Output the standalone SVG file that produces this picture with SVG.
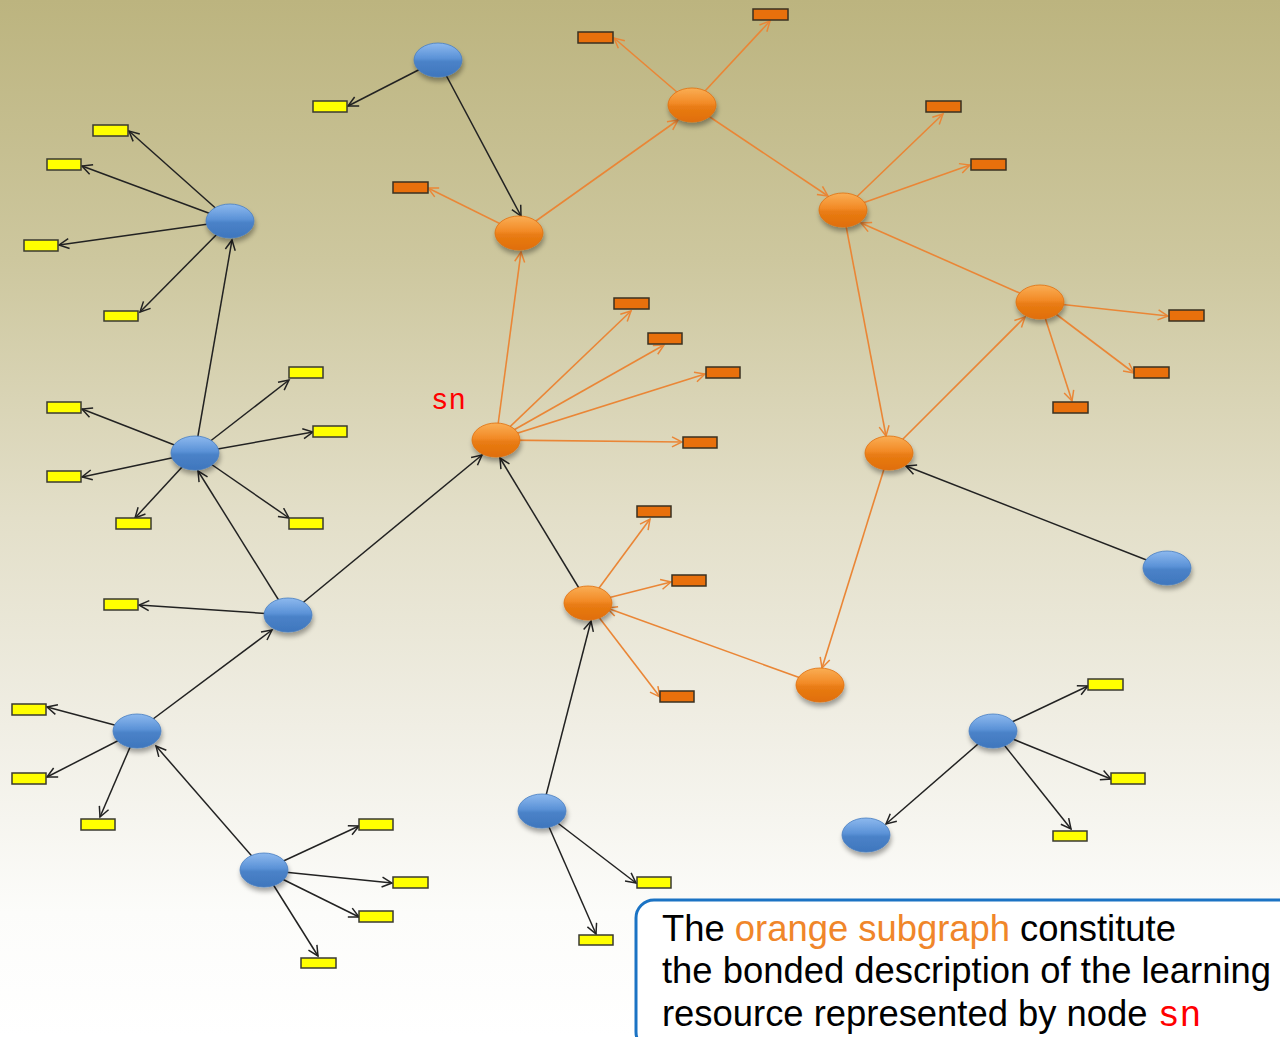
<svg xmlns="http://www.w3.org/2000/svg" width="1280" height="1037" viewBox="0 0 1280 1037">
<defs>
<linearGradient id="bg" x1="0" y1="0" x2="0" y2="1">
<stop offset="0" stop-color="#BCB47F"/>
<stop offset="0.25" stop-color="#CDC79E"/>
<stop offset="0.5" stop-color="#E3DFC9"/>
<stop offset="0.7" stop-color="#F0EEE4"/>
<stop offset="0.88" stop-color="#FCFCFA"/>
<stop offset="1" stop-color="#FFFFFF"/>
</linearGradient>
<linearGradient id="gBlue" x1="0" y1="0" x2="0" y2="1">
<stop offset="0" stop-color="#8DB9EE"/>
<stop offset="0.45" stop-color="#5B92D7"/>
<stop offset="0.55" stop-color="#4A82C8"/>
<stop offset="1" stop-color="#3F76BD"/>
</linearGradient>
<linearGradient id="gOrange" x1="0" y1="0" x2="0" y2="1">
<stop offset="0" stop-color="#FAAE55"/>
<stop offset="0.45" stop-color="#F28A26"/>
<stop offset="0.55" stop-color="#E97C14"/>
<stop offset="1" stop-color="#E06E06"/>
</linearGradient>
<filter id="sh" x="-30%" y="-30%" width="160%" height="180%">
<feGaussianBlur in="SourceAlpha" stdDeviation="2.5"/>
<feOffset dx="1" dy="4" result="b"/>
<feComponentTransfer><feFuncA type="linear" slope="0.35"/></feComponentTransfer>
<feMerge><feMergeNode/><feMergeNode in="SourceGraphic"/></feMerge>
</filter>
<marker id="aK" markerUnits="userSpaceOnUse" markerWidth="14" markerHeight="14" refX="11" refY="6" orient="auto">
<path d="M1,1 L11,6 L1,11" fill="none" stroke="#222" stroke-width="1.5"/>
</marker>
<marker id="aO" markerUnits="userSpaceOnUse" markerWidth="14" markerHeight="14" refX="11" refY="6" orient="auto">
<path d="M1,1 L11,6 L1,11" fill="none" stroke="#EA8636" stroke-width="1.5"/>
</marker>
</defs>
<style>
.bn{fill:url(#gBlue);stroke:#4A7FC0;stroke-width:0.8;filter:url(#sh)}
.on{fill:url(#gOrange);stroke:#E07010;stroke-width:0.8;filter:url(#sh)}
.yr{fill:#FFFF00;stroke:#3A3A30;stroke-width:1.5}
.orr{fill:#E8700C;stroke:#3A3020;stroke-width:1.5}
.k{stroke:#222;stroke-width:1.5;fill:none;marker-end:url(#aK)}
.o{stroke:#EA8636;stroke-width:1.6;fill:none;marker-end:url(#aO)}
.t{font-family:"Liberation Sans",Arial,sans-serif;font-size:36.4px;fill:#000}
.sn{font-family:"Liberation Mono","Courier New",monospace;fill:#FF0000}
</style>
<rect x="0" y="0" width="1280" height="1037" fill="url(#bg)"/>

<g id="connectors">
<line class="k" x1="438" y1="60" x2="348" y2="106"/>
<line class="k" x1="438" y1="60" x2="521" y2="216"/>
<line class="k" x1="230" y1="221" x2="129" y2="131"/>
<line class="k" x1="230" y1="221" x2="82" y2="166"/>
<line class="k" x1="230" y1="221" x2="59" y2="245"/>
<line class="k" x1="230" y1="221" x2="140" y2="312"/>
<line class="k" x1="195" y1="453" x2="232" y2="240"/>
<line class="k" x1="195" y1="453" x2="82" y2="409"/>
<line class="k" x1="195" y1="453" x2="82" y2="477"/>
<line class="k" x1="195" y1="453" x2="135" y2="518"/>
<line class="k" x1="195" y1="453" x2="289" y2="380"/>
<line class="k" x1="195" y1="453" x2="313" y2="432"/>
<line class="k" x1="195" y1="453" x2="289" y2="518"/>
<line class="k" x1="288" y1="615" x2="198" y2="471"/>
<line class="k" x1="288" y1="615" x2="139" y2="605"/>
<line class="k" x1="288" y1="615" x2="482" y2="455"/>
<line class="k" x1="137" y1="731" x2="272" y2="630"/>
<line class="k" x1="137" y1="731" x2="47" y2="707"/>
<line class="k" x1="137" y1="731" x2="47" y2="777"/>
<line class="k" x1="137" y1="731" x2="100" y2="817"/>
<line class="k" x1="264" y1="870" x2="156" y2="746"/>
<line class="k" x1="264" y1="870" x2="359" y2="826"/>
<line class="k" x1="264" y1="870" x2="392" y2="883"/>
<line class="k" x1="264" y1="870" x2="359" y2="917"/>
<line class="k" x1="264" y1="870" x2="318" y2="956"/>
<line class="k" x1="542" y1="811" x2="591" y2="621"/>
<line class="k" x1="542" y1="811" x2="636" y2="883"/>
<line class="k" x1="542" y1="811" x2="596" y2="934"/>
<line class="k" x1="993" y1="731" x2="886" y2="824"/>
<line class="k" x1="993" y1="731" x2="1088" y2="686"/>
<line class="k" x1="993" y1="731" x2="1111" y2="779"/>
<line class="k" x1="993" y1="731" x2="1071" y2="829"/>
<line class="k" x1="1167" y1="568" x2="906" y2="466"/>
<line class="k" x1="588" y1="603" x2="500" y2="458"/>
<line class="o" x1="519" y1="233" x2="428" y2="188"/>
<line class="o" x1="519" y1="233" x2="678" y2="120"/>
<line class="o" x1="496" y1="440" x2="521" y2="252"/>
<line class="o" x1="692" y1="105" x2="614" y2="38"/>
<line class="o" x1="692" y1="105" x2="770" y2="21"/>
<line class="o" x1="692" y1="105" x2="828" y2="196"/>
<line class="o" x1="843" y1="210" x2="943" y2="114"/>
<line class="o" x1="843" y1="210" x2="970" y2="165"/>
<line class="o" x1="843" y1="210" x2="886" y2="436"/>
<line class="o" x1="1040" y1="302" x2="861" y2="223"/>
<line class="o" x1="1040" y1="302" x2="1168" y2="316"/>
<line class="o" x1="1040" y1="302" x2="1134" y2="373"/>
<line class="o" x1="1040" y1="302" x2="1072" y2="401"/>
<line class="o" x1="889" y1="453" x2="1025" y2="317"/>
<line class="o" x1="889" y1="453" x2="822" y2="668"/>
<line class="o" x1="820" y1="685" x2="607" y2="608"/>
<line class="o" x1="588" y1="603" x2="650" y2="519"/>
<line class="o" x1="588" y1="603" x2="671" y2="582"/>
<line class="o" x1="588" y1="603" x2="660" y2="697"/>
<line class="o" x1="496" y1="440" x2="631" y2="311"/>
<line class="o" x1="496" y1="440" x2="664" y2="345"/>
<line class="o" x1="496" y1="440" x2="705" y2="374"/>
<line class="o" x1="496" y1="440" x2="682" y2="442"/>
</g>

<g id="b1"><ellipse class="bn" cx="438" cy="60" rx="24" ry="17"/></g>
<g id="b2"><ellipse class="bn" cx="230" cy="221" rx="24" ry="17"/></g>
<g id="b3"><ellipse class="bn" cx="195" cy="453" rx="24" ry="17"/></g>
<g id="b4"><ellipse class="bn" cx="288" cy="615" rx="24" ry="17"/></g>
<g id="b5"><ellipse class="bn" cx="137" cy="731" rx="24" ry="17"/></g>
<g id="b6"><ellipse class="bn" cx="264" cy="870" rx="24" ry="17"/></g>
<g id="b7"><ellipse class="bn" cx="542" cy="811" rx="24" ry="17"/></g>
<g id="b8"><ellipse class="bn" cx="993" cy="731" rx="24" ry="17"/></g>
<g id="b9"><ellipse class="bn" cx="866" cy="835" rx="24" ry="17"/></g>
<g id="b10"><ellipse class="bn" cx="1167" cy="568" rx="24" ry="17"/></g>

<g id="sn"><ellipse class="on" cx="496" cy="440" rx="24" ry="17"/><text class="sn" x="431" y="409" font-size="29">sn</text></g>
<g id="o2"><ellipse class="on" cx="519" cy="233" rx="24" ry="17"/></g>
<g id="o3"><ellipse class="on" cx="692" cy="105" rx="24" ry="17"/></g>
<g id="o4"><ellipse class="on" cx="843" cy="210" rx="24" ry="17"/></g>
<g id="o5"><ellipse class="on" cx="1040" cy="302" rx="24" ry="17"/></g>
<g id="o6"><ellipse class="on" cx="889" cy="453" rx="24" ry="17"/></g>
<g id="o7"><ellipse class="on" cx="820" cy="685" rx="24" ry="17"/></g>
<g id="o8"><ellipse class="on" cx="588" cy="603" rx="24" ry="17"/></g>

<g id="y1"><rect class="yr" x="313" y="101" width="34" height="11"/></g>
<g id="y2"><rect class="yr" x="93" y="125" width="35" height="11"/></g>
<g id="y3"><rect class="yr" x="47" y="159" width="34" height="11"/></g>
<g id="y4"><rect class="yr" x="24" y="240" width="34" height="11"/></g>
<g id="y5"><rect class="yr" x="104" y="311" width="34" height="10"/></g>
<g id="y6"><rect class="yr" x="47" y="402" width="34" height="11"/></g>
<g id="y7"><rect class="yr" x="47" y="471" width="34" height="11"/></g>
<g id="y8"><rect class="yr" x="116" y="518" width="35" height="11"/></g>
<g id="y9"><rect class="yr" x="289" y="367" width="34" height="11"/></g>
<g id="y10"><rect class="yr" x="313" y="426" width="34" height="11"/></g>
<g id="y11"><rect class="yr" x="289" y="518" width="34" height="11"/></g>
<g id="y12"><rect class="yr" x="104" y="599" width="34" height="11"/></g>
<g id="y13"><rect class="yr" x="12" y="704" width="34" height="11"/></g>
<g id="y14"><rect class="yr" x="12" y="773" width="34" height="11"/></g>
<g id="y15"><rect class="yr" x="81" y="819" width="34" height="11"/></g>
<g id="y16"><rect class="yr" x="359" y="819" width="34" height="11"/></g>
<g id="y17"><rect class="yr" x="393" y="877" width="35" height="11"/></g>
<g id="y18"><rect class="yr" x="359" y="911" width="34" height="11"/></g>
<g id="y19"><rect class="yr" x="301" y="958" width="35" height="10"/></g>
<g id="y20"><rect class="yr" x="637" y="877" width="34" height="11"/></g>
<g id="y21"><rect class="yr" x="579" y="935" width="34" height="10"/></g>
<g id="y22"><rect class="yr" x="1088" y="679" width="35" height="11"/></g>
<g id="y23"><rect class="yr" x="1111" y="773" width="34" height="11"/></g>
<g id="y24"><rect class="yr" x="1053" y="831" width="34" height="10"/></g>

<g id="r1"><rect class="orr" x="393" y="182" width="35" height="11"/></g>
<g id="r2"><rect class="orr" x="578" y="32" width="35" height="11"/></g>
<g id="r3"><rect class="orr" x="753" y="9" width="35" height="11"/></g>
<g id="r4"><rect class="orr" x="926" y="101" width="35" height="11"/></g>
<g id="r5"><rect class="orr" x="971" y="159" width="35" height="11"/></g>
<g id="r6"><rect class="orr" x="1169" y="310" width="35" height="11"/></g>
<g id="r7"><rect class="orr" x="1134" y="367" width="35" height="11"/></g>
<g id="r8"><rect class="orr" x="1053" y="402" width="35" height="11"/></g>
<g id="r9"><rect class="orr" x="614" y="298" width="35" height="11"/></g>
<g id="r10"><rect class="orr" x="648" y="333" width="34" height="11"/></g>
<g id="r11"><rect class="orr" x="706" y="367" width="34" height="11"/></g>
<g id="r12"><rect class="orr" x="683" y="437" width="34" height="11"/></g>
<g id="r13"><rect class="orr" x="637" y="506" width="34" height="11"/></g>
<g id="r14"><rect class="orr" x="672" y="575" width="34" height="11"/></g>
<g id="r15"><rect class="orr" x="660" y="691" width="34" height="11"/></g>

<g id="caption">
<rect x="636" y="900" width="660" height="150" rx="18" ry="18" fill="#FFFFFF" stroke="#1B73C4" stroke-width="3"/>
<text class="t" x="662" y="941">The <tspan fill="#F0862A">orange subgraph</tspan> constitute</text>
<text class="t" x="662" y="983">the bonded description of the learning</text>
<text class="t" x="662" y="1026">resource represented by node <tspan font-family="Liberation Mono, Courier New, monospace" fill="#FF0000">sn</tspan></text>
</g>
</svg>
